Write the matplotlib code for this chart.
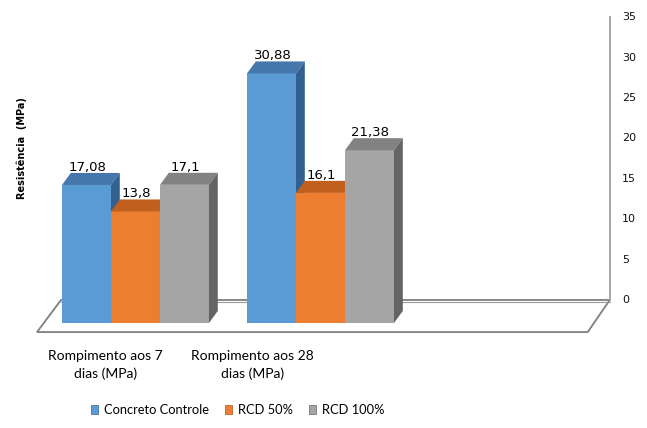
import matplotlib.pyplot as plt
from matplotlib.patches import Rectangle, Polygon, Patch

# compressive strength results (MPa)
categorias = ["Rompimento aos 7\ndias (MPa)", "Rompimento aos 28\ndias (MPa)"]
series = ["Concreto Controle", "RCD 50%", "RCD 100%"]
concreto_controle = [17.08, 30.88]
rcd_50 = [13.8, 16.1]
rcd_100 = [17.1, 21.38]
rotulos = [["17,08", "30,88"], ["13,8", "16,1"], ["17,1", "21,38"]]
yticks = [0, 5, 10, 15, 20, 25, 30, 35]

valores = [concreto_controle, rcd_50, rcd_100]
# front, top, side colours for each series
cores = [("#5B9BD5", "#4577AC", "#32618F"),
         ("#ED7D31", "#C15F1E", "#A9541C"),
         ("#A5A5A5", "#828282", "#646464")]

fig = plt.figure(figsize=(6.47, 4.28), dpi=100)
ax = fig.add_axes([0, 0, 1, 1])
ax.set_xlim(-1.265, 11.94)
ax.set_ylim(-12.99, 39.97)
ax.axis("off")

w = 1.0          # bar width
dx, dy = 0.18, 1.49   # depth offsets for the 3d look
x_grupo = [0.0, 3.776]
back = 2.85      # level of the back wall zero line

# floor
piso = Polygon([(-0.02, back), (11.18, back), (10.73, -1.12), (-0.51, -1.12)],
               closed=True, facecolor="white", edgecolor="#7F7F7F", lw=1.3, zorder=1)
ax.add_patch(piso)
ax.plot([-0.02, 11.18], [back - 0.3, back - 0.3], color="#9A9A9A", lw=0.8, zorder=1)

# vertical axis on the back wall
ax.plot([11.18, 11.18], [back, back + 35], color="#A0A0A0", lw=1.3, zorder=1)
for t in yticks:
    ax.text(11.43, back + t, str(t), fontsize=8, ha="left", va="center",
            family="DejaVu Sans", color="#111111")

for g, x0 in enumerate(x_grupo):
    for s in range(3):
        h = valores[s][g]
        x = x0 + s * w
        front, top, side = cores[s]
        ax.add_patch(Rectangle((x, 0), w, h, facecolor=front, edgecolor="none", zorder=2))
        ax.add_patch(Polygon([(x, h), (x + w, h), (x + w + dx, h + dy), (x + dx, h + dy)],
                             closed=True, facecolor=top, edgecolor="none", zorder=2))
        ax.add_patch(Polygon([(x + w, 0), (x + w + dx, dy), (x + w + dx, h + dy), (x + w, h)],
                             closed=True, facecolor=side, edgecolor="none", zorder=2))
        ax.text(x + w / 2 + 0.02, h + dy - 0.1, rotulos[s][g], fontsize=9.5,
                ha="center", va="bottom", family="DejaVu Sans", zorder=3)

# category labels
ax.text(0.88, -5.2, categorias[0], fontsize=10, family="Lato", ha="center",
        va="center", linespacing=1.45)
ax.text(3.88, -5.2, categorias[1], fontsize=10, family="Lato", ha="center",
        va="center", linespacing=1.45)

fig.text(22 / 647, 1 - 148 / 428, "Resistência  (MPa)", rotation=90, fontsize=7.0,
         fontweight="heavy", ha="center", va="center", family="DejaVu Sans")

handles = [Patch(facecolor=c[0], edgecolor=c[2], lw=0.5) for c in cores]
fig.legend(handles, series, ncol=3, loc="center", bbox_to_anchor=(0.368, 0.042),
           frameon=False, handlelength=0.5, handleheight=0.8, handletextpad=0.5,
           columnspacing=1.25, prop={"family": "Lato", "size": 9.3})

plt.savefig("out.png", dpi=100)
